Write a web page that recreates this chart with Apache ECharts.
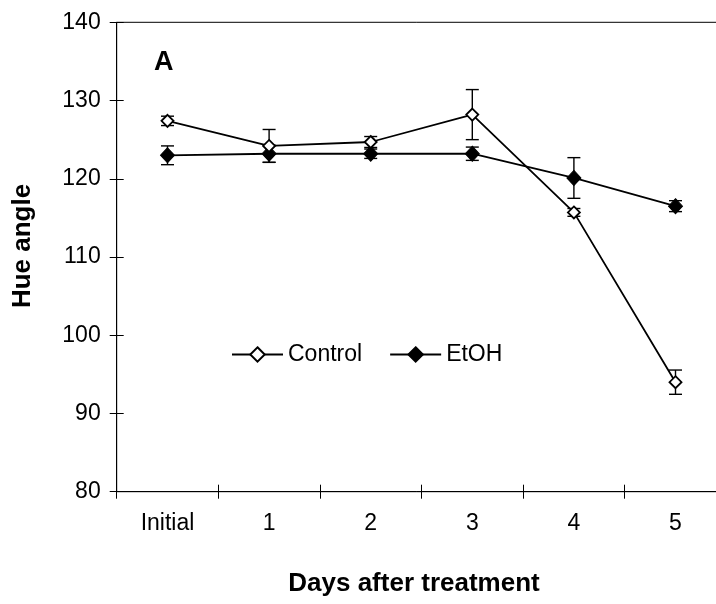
<!DOCTYPE html>
<html>
<head>
<meta charset="utf-8">
<script src="https://cdn.jsdelivr.net/npm/echarts@6/dist/echarts.min.js"></script>
<style>html,body{margin:0;padding:0;background:#fff;}#c{width:716px;height:604px;}</style>
</head>
<body>
<div id="c"></div>
<script>
const categories = ['Initial', '1', '2', '3', '4', '5'];
const controlValues = [127.4, 124.2, 124.7, 128.2, 115.7, 94.0];
const controlErrors = [0.6, 2.1, 0.7, 3.2, 0.5, 1.55];
const etohValues = [123.0, 123.2, 123.2, 123.2, 120.1, 116.5];
const etohErrors = [1.2, 1.1, 0.6, 0.85, 2.6, 0.7];
const yTicks = { min: 80, max: 140, interval: 10 };

const FONT = "'Liberation Sans', Arial, sans-serif";
const chart = echarts.init(document.getElementById('c'), null, { renderer: 'canvas' });

function errData(vals, errs) {
  return vals.map((v, i) => [i, v - errs[i], v + errs[i]]);
}
function errRender(params, api) {
  const x = api.value(0);
  const lo = api.coord([x, api.value(1)]);
  const hi = api.coord([x, api.value(2)]);
  const w = 6.5;
  const st = { stroke: '#000', lineWidth: 1.4 };
  return {
    type: 'group',
    children: [
      { type: 'line', shape: { x1: lo[0], y1: lo[1], x2: hi[0], y2: hi[1] }, style: st },
      { type: 'line', shape: { x1: hi[0] - w, y1: hi[1], x2: hi[0] + w, y2: hi[1] }, style: st },
      { type: 'line', shape: { x1: lo[0] - w, y1: lo[1], x2: lo[0] + w, y2: lo[1] }, style: st }
    ]
  };
}

const tickFont = { fontFamily: FONT, fontSize: 23, color: '#000' };

chart.setOption({
  animation: false,
  backgroundColor: '#fff',
  grid: {
    left: 116.7, top: 22.3, width: 609.6, height: 469.4,
    outerBoundsMode: 'none', containLabel: false,
    show: true, borderColor: '#000', borderWidth: 1, backgroundColor: 'transparent'
  },
  legend: {
    data: ['Control', 'EtOH'],
    left: 226, top: 338,
    itemWidth: 51, itemHeight: 18, itemGap: 27,
    textStyle: { fontFamily: FONT, fontSize: 23, color: '#000' }
  },
  xAxis: [
    {
      type: 'category', data: categories, position: 'bottom', boundaryGap: true,
      axisLine: { lineStyle: { color: '#000', width: 1 } },
      axisTick: { show: true, length: 7, inside: false, lineStyle: { color: '#000', width: 1 } },
      axisLabel: Object.assign({ margin: 20 }, tickFont),
      splitLine: { show: false }
    },
    {
      type: 'category', data: categories, position: 'bottom', boundaryGap: true,
      axisLine: { show: false },
      axisTick: { show: true, length: 7, inside: true, lineStyle: { color: '#000', width: 1 } },
      axisLabel: { show: false },
      splitLine: { show: false }
    }
  ],
  yAxis: [
    {
      type: 'value', min: yTicks.min, max: yTicks.max, interval: yTicks.interval, position: 'left',
      axisLine: { show: true, lineStyle: { color: '#000', width: 1 } },
      axisTick: { show: true, length: 7, inside: false, lineStyle: { color: '#000', width: 1 } },
      axisLabel: Object.assign({ margin: 16 }, tickFont),
      splitLine: { show: false }
    },
    {
      type: 'value', min: yTicks.min, max: yTicks.max, interval: yTicks.interval, position: 'left',
      axisLine: { show: false },
      axisTick: { show: true, length: 7, inside: true, lineStyle: { color: '#000', width: 1 } },
      axisLabel: { show: false },
      splitLine: { show: false }
    }
  ],
  graphic: [
    { type: 'text', x: 23, y: 246, rotation: Math.PI / 2,
      style: { text: 'Hue angle', font: "bold 26px " + FONT, fill: '#000', align: 'center', verticalAlign: 'middle' } },
    { type: 'text', x: 414, y: 584,
      style: { text: 'Days after treatment', font: "bold 26px " + FONT, fill: '#000', align: 'center', verticalAlign: 'middle' } },
    { type: 'text', x: 154, y: 63,
      style: { text: 'A', font: "bold 27px " + FONT, fill: '#000', align: 'left', verticalAlign: 'middle' } }
  ],
  series: [
    { type: 'custom', name: 'ctrlErr', renderItem: errRender, data: errData(controlValues, controlErrors), z: 1 },
    { type: 'custom', name: 'etohErr', renderItem: errRender, data: errData(etohValues, etohErrors), z: 1 },
    {
      type: 'line', name: 'EtOH', data: etohValues, z: 3,
      symbol: 'diamond', symbolSize: [14, 15],
      itemStyle: { color: '#000', borderColor: '#000', borderWidth: 1 },
      lineStyle: { color: '#000', width: 1.8 }
    },
    {
      type: 'line', name: 'Control', data: controlValues, z: 4,
      symbol: 'diamond', symbolSize: [12, 12], showAllSymbol: true,
      itemStyle: { color: '#fff', borderColor: '#000', borderWidth: 1.8 },
      lineStyle: { color: '#000', width: 1.8 }
    }
  ]
});
</script>
</body>
</html>
